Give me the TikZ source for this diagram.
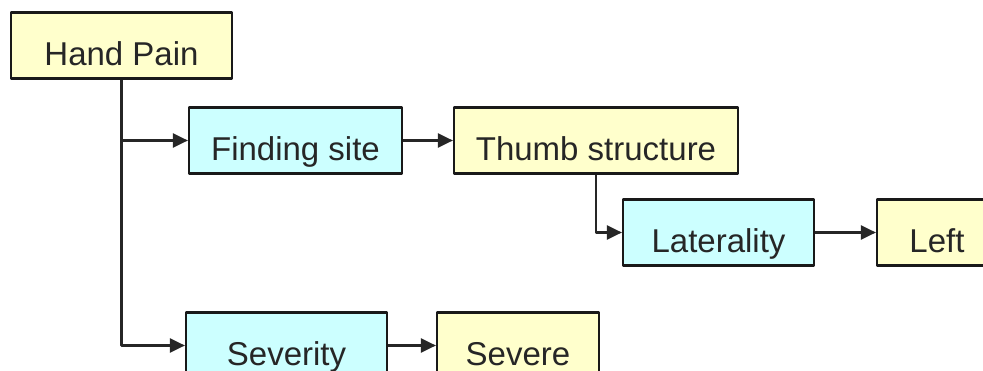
\documentclass[tikz,border=0pt]{standalone}
\usepackage{fontspec}
\setmainfont{Liberation Sans}
\usetikzlibrary{arrows.meta}
\definecolor{paleyellow}{HTML}{FFFFCC}
\definecolor{palecyan}{HTML}{CCFFFF}
\begin{document}
\begin{tikzpicture}[x=1pt,y=-1pt,>={Triangle[length=15pt,width=14pt]},line join=round,
		concept/.style={draw=black!90,line width=2.2pt,fill=paleyellow,inner sep=0pt,
			text height=53pt,text depth=13pt,font=\fontsize{33}{40}\selectfont,text=black!85},
		attr/.style={concept,fill=palecyan},
		link/.style={->,line width=2.2pt,draw=black!85}]
		\useasboundingbox (0,0) rectangle (983,371);
		\clip (0,0) rectangle (983,371);
		\node[concept,minimum width=221pt] (hand) at (121.5,45.5) {Hand Pain};
		\node[attr,minimum width=213pt] (finding) at (295.5,140.5) {Finding site};
		\node[concept,minimum width=284pt] (thumb) at (596,140.5) {Thumb structure};
		\node[attr,minimum width=191pt] (laterality) at (718.5,232.5) {Laterality};
		\node[concept,minimum width=120pt] (left) at (937,232.5) {Left};
		\node[attr,minimum width=201pt] (severity) at (286.5,345.5) {Severity};
		\node[concept,minimum width=162pt] (severe) at (518,345.5) {Severe};
		\draw[link](hand.south) |- (finding.west);
		\draw[link](hand.south) |- (severity.west);
		\draw[link](finding.east) -- (thumb.west);
		\draw[link](thumb.south) |- (laterality.west);
		\draw[link](laterality.east) -- (left.west);
		\draw[link](severity.east) -- (severe.west);
\end{tikzpicture}
\end{document}
